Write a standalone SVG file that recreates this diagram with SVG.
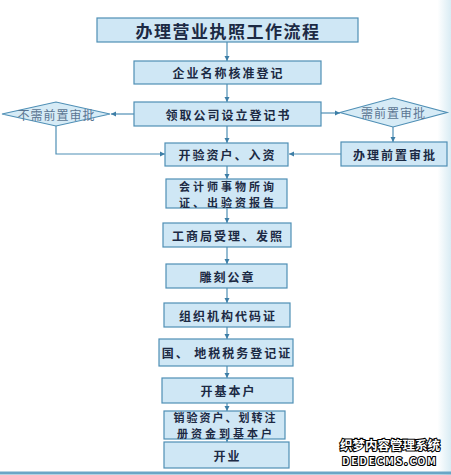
<svg xmlns="http://www.w3.org/2000/svg" width="451" height="475" viewBox="0 0 451 475">
<defs>
<style>
.box{fill:#cfe7f5;stroke:#4f8fb5;stroke-width:1.2}
.dia{fill:#d6ebf6;stroke:#4f8fb5;stroke-width:1.2}
.t{font-family:"Noto Sans CJK SC","Noto Sans CJK TC",sans-serif;font-weight:bold;fill:#1c2a44;text-anchor:middle;dominant-baseline:central;font-size:12px;letter-spacing:2px}
.t2{font-size:11px;letter-spacing:3px}
.dt{font-family:"Noto Sans CJK SC",sans-serif;fill:#5b7592;text-anchor:middle;dominant-baseline:central;font-size:12px;letter-spacing:1px}
.ln{fill:none;stroke:#4f8fb5;stroke-width:1.2;marker-end:url(#ah)}
.wm{font-family:"Noto Sans CJK SC",sans-serif;font-weight:bold;fill:#ffffff;stroke:#000;stroke-width:2.2;paint-order:stroke;text-anchor:middle}
</style>
<marker id="ah" markerWidth="6" markerHeight="6" refX="5" refY="3" orient="auto" markerUnits="userSpaceOnUse">
<path d="M0,0.5 L5,3 L0,5.5 Z" fill="#3d7ea6"/>
</marker>
<linearGradient id="bg" x1="0" y1="0" x2="1" y2="0">
<stop offset="0" stop-color="#ffffff"/>
<stop offset="0.97" stop-color="#ffffff"/>
<stop offset="1" stop-color="#d9ecf4"/>
</linearGradient>
</defs>
<rect x="0" y="0" width="451" height="475" fill="url(#bg)"/>
<line x1="0" y1="473" x2="451" y2="473" stroke="#6aa6c6" stroke-width="3"/>

<g id="connectors">
<line class="ln" x1="227" y1="42" x2="227" y2="61"/>
<line class="ln" x1="227" y1="84" x2="227" y2="102"/>
<line class="ln" x1="134" y1="114" x2="111" y2="114"/>
<line class="ln" x1="321" y1="113" x2="340" y2="113"/>
<polyline class="ln" points="56,126 56,154 165,154"/>
<line class="ln" x1="393" y1="127" x2="393" y2="142"/>
<line class="ln" x1="341" y1="154" x2="289" y2="154"/>
<line class="ln" x1="227" y1="126" x2="227" y2="143"/>
<line class="ln" x1="227" y1="166" x2="227" y2="179"/>
<line class="ln" x1="227" y1="208" x2="227" y2="223"/>
<line class="ln" x1="227" y1="247" x2="227" y2="264"/>
<line class="ln" x1="227" y1="288" x2="227" y2="303"/>
<line class="ln" x1="227" y1="327" x2="227" y2="339"/>
<line class="ln" x1="227" y1="366" x2="227" y2="378"/>
<line class="ln" x1="227" y1="403" x2="227" y2="411"/>
<line class="ln" x1="227" y1="439" x2="227" y2="442"/>
</g>

<g id="title"><rect class="box" x="97" y="18" width="261" height="24"/><text class="t" x="228" y="30" style="font-size:17px;letter-spacing:1.5px">办理营业执照工作流程</text></g>
<g id="n1"><rect class="box" x="134" y="61" width="187" height="23"/><text class="t" x="228.5" y="72.5">企业名称核准登记</text></g>
<g id="n2"><rect class="box" x="134" y="102" width="187" height="24"/><text class="t" x="228.5" y="114">领取公司设立登记书</text></g>
<g id="d1"><polygon class="dia" points="2,114 56,102 110,114 56,126"/><text class="dt" x="56.5" y="114">不需前置审批</text></g>
<g id="d2"><polygon class="dia" points="340,112.5 393,98 447,112.5 393,127"/><text class="dt" x="393.5" y="112.5">需前置审批</text></g>
<g id="n3"><rect class="box" x="165" y="143" width="123" height="23"/><text class="t" x="227.5" y="154.5">开验资户、入资</text></g>
<g id="n4"><rect class="box" x="341" y="142" width="106" height="24"/><text class="t" x="395" y="154">办理前置审批</text></g>
<g id="n5"><rect class="box" x="166" y="179" width="121" height="29"/><text class="t t2" y="185.5"><tspan x="228">会计师事物所询</tspan><tspan x="228" dy="16">证、出验资报告</tspan></text></g>
<g id="n6"><rect class="box" x="163" y="223" width="128" height="24"/><text class="t" x="228" y="235">工商局受理、发照</text></g>
<g id="n7"><rect class="box" x="166" y="264" width="121" height="24"/><text class="t" x="227.5" y="276">雕刻公章</text></g>
<g id="n8"><rect class="box" x="164" y="303" width="126" height="24"/><text class="t" x="228" y="315">组织机构代码证</text></g>
<g id="n9"><rect class="box" x="159" y="339" width="134" height="27"/><text class="t" x="227" y="352.5">国、 地税税务登记证</text></g>
<g id="n10"><rect class="box" x="162" y="378" width="131" height="25"/><text class="t" x="228.5" y="390.5">开基本户</text></g>
<g id="n11"><rect class="box" x="164" y="411" width="121" height="28"/><text class="t t2" y="417"><tspan x="225.5" style="letter-spacing:2px">销验资户、划转注</tspan><tspan x="226" dy="16">册资金到基本户</tspan></text></g>
<g id="n12"><rect class="box" x="164" y="442" width="125" height="26"/><text class="t" x="227.5" y="455">开业</text></g>

<g id="watermark">
<text class="wm" y="450" style="font-size:12.5px"><tspan x="390">织梦内容管理系统</tspan><tspan x="390" dy="15.4" style="font-size:10px;letter-spacing:2px">DEDECMS.COM</tspan></text>
</g>
</svg>
